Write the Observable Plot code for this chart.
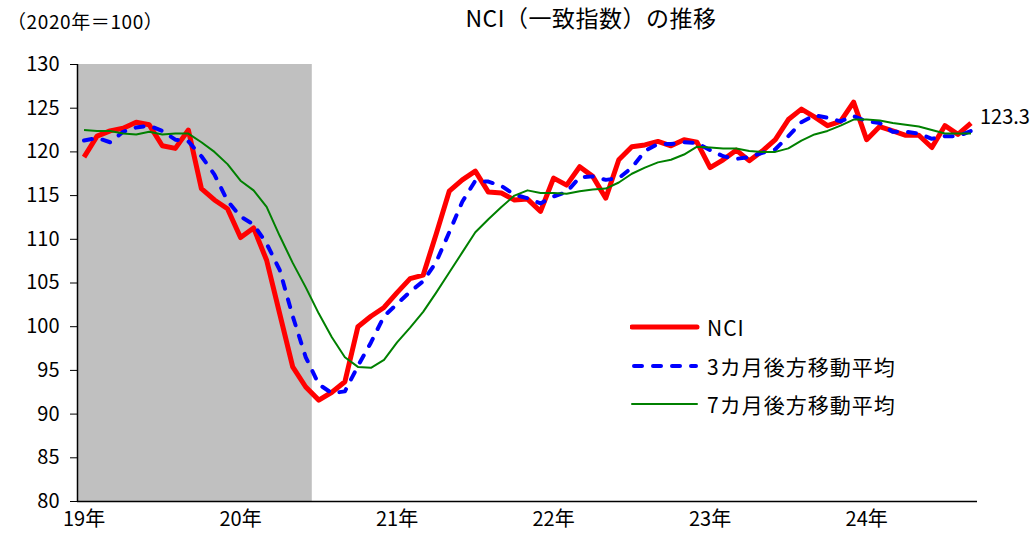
<!DOCTYPE html>
<html>
<head>
<meta charset="utf-8">
<script src="https://cdn.jsdelivr.net/npm/d3@7"></script>
<script src="https://cdn.jsdelivr.net/npm/@observablehq/plot@0.6"></script>
<style>
  body { margin: 0; background: #fff; }
  #wrap { position: relative; width: 1033px; height: 535px; overflow: hidden; font-family: "Noto Sans CJK JP", "Noto Sans", sans-serif; color: #000; }
  #title { position: absolute; left: 0; width: 1182px; top: 2px; text-align: center; font-size: 23px; line-height: 30px; letter-spacing: 0.5px; }
  #unit { position: absolute; left: 7px; top: 8px; font-size: 19px; line-height: 26px; letter-spacing: 0.6px; }
  #legend { position: absolute; left: 630px; top: 308px; font-size: 21px; letter-spacing: 1px; }
  .li { display: flex; align-items: center; height: 38.5px; }
  .li svg { margin-right: 7px; }
  #chart { position: absolute; left: 0; top: 0; }
</style>
</head>
<body>
<div id="wrap">
  <div id="chart"></div>
  <div id="title">NCI（一致指数）の推移</div>
  <div id="unit">（2020年＝100）</div>
  <div id="legend"></div>
</div>
<script>
// Monthly, Jan 2019 .. Sep 2024 (69 months)
const startMonth = "2019-01";
const yearLabels = ["19年", "20年", "21年", "22年", "23年", "24年"];
const yTicks = [80, 85, 90, 95, 100, 105, 110, 115, 120, 125, 130];
const recession = { from: "2019-01", to: "2020-06" };

const nci = [
  119.4, 121.8, 122.4, 122.7, 123.4, 123.1, 120.7, 120.4, 122.5, 115.8, 114.5, 113.5,
  110.2, 111.3, 107.6, 101.5, 95.4, 93.1, 91.6, 92.5, 93.7, 100.0, 101.2, 102.2,
  103.9, 105.5, 105.9, 110.6, 115.5, 116.8, 117.8, 115.4, 115.3, 114.5, 114.6, 113.2,
  117.0, 116.2, 118.3, 117.2, 114.7, 119.1, 120.6, 120.8, 121.2, 120.7, 121.4, 121.1,
  118.2, 119.1, 120.2, 119.0, 120.1, 121.4, 123.7, 124.9, 124.0, 123.0, 123.5, 125.7,
  121.4, 122.9, 122.4, 121.9, 121.9, 120.5, 123.0, 122.0, 123.3
];
const ma3 = [
  121.3, 121.6, 121.1, 122.3, 122.8, 123.0, 122.4, 121.4, 121.2, 119.5, 117.4, 114.4,
  112.6, 111.7, 109.5, 106.5, 101.2, 96.5, 93.4, 92.4, 92.6, 95.5, 98.2, 101.2,
  102.6, 104.0, 105.2, 107.4, 110.8, 114.3, 116.7, 116.6, 116.1, 115.1, 114.7, 114.1,
  114.9, 115.4, 117.1, 117.2, 116.8, 117.0, 118.2, 120.1, 120.9, 120.9, 121.1, 121.0,
  120.2, 119.5, 119.2, 119.4, 119.9, 120.3, 121.8, 123.4, 124.2, 123.9, 123.5, 124.1,
  123.5, 123.3, 122.3, 122.3, 122.1, 121.5, 121.8, 121.8, 122.4
];
const ma7 = [
  122.5, 122.4, 122.4, 122.1, 122.0, 122.3, 122.0, 122.1, 122.1, 121.1, 120.0, 118.6,
  116.7, 115.6, 113.7, 110.4, 107.3, 104.5, 101.5, 98.8, 96.5, 95.4, 95.3, 96.2,
  98.2, 99.9, 101.7, 103.9, 106.2, 108.5, 110.8, 112.3, 113.7, 115.0, 115.6, 115.3,
  115.3, 115.2, 115.5, 115.7, 115.8, 116.5, 117.5, 118.2, 118.8, 119.1, 119.7, 120.6,
  120.5, 120.4, 120.4, 120.1, 120.0, 120.0, 120.4, 121.3, 122.0, 122.4, 123.0, 123.7,
  123.7, 123.6, 123.3, 123.1, 122.9, 122.5, 122.1, 122.1, 122.1
];

const series = [
  { key: "nci", name: "NCI", color: "#ff0000", width: 5, dash: null, values: nci },
  { key: "ma3", name: "3カ月後方移動平均", color: "#0000ff", width: 4, dash: "8,11", values: ma3 },
  { key: "ma7", name: "7カ月後方移動平均", color: "#008000", width: 2, dash: null, values: ma7 }
];

const monthIndex = s => {
  const [y, m] = s.split("-").map(Number);
  const [y0, m0] = startMonth.split("-").map(Number);
  return (y - y0) * 12 + (m - m0);
};

const rows = [];
series.forEach(s => s.values.forEach((v, i) => rows.push({ i, v, key: s.key })));
const lastRow = { i: nci.length - 1, v: nci[nci.length - 1] };
const recRows = [{ x1: monthIndex(recession.from) - 0.5, x2: monthIndex(recession.to) + 0.5 }];
const yearTicks = yearLabels.map((_, k) => k * 12);

const plot = Plot.plot({
  width: 1033,
  height: 535,
  marginTop: 64,
  marginBottom: 34,
  marginLeft: 77,
  marginRight: 56,
  style: { fontFamily: "'Noto Sans CJK JP', 'Noto Sans', sans-serif", fontSize: "20px", color: "#000", background: "transparent" },
  x: { domain: [-0.5, nci.length - 0.5] },
  y: { domain: [80, 130] },
  marks: [
    Plot.rect(recRows, { x1: "x1", x2: "x2", y1: 80, y2: 130, fill: "#c0c0c0" }),
    ...series.map(s => Plot.line(rows.filter(r => r.key === s.key), {
      x: "i", y: "v", stroke: s.color, strokeWidth: s.width,
      strokeDasharray: s.dash || undefined,
      strokeLinecap: s.dash ? "round" : "butt",
      strokeLinejoin: "round"
    })),
    Plot.ruleX([-0.5], { stroke: "#000", strokeWidth: 1.5 }),
    Plot.ruleY([80], { stroke: "#000", strokeWidth: 1.5 }),
    Plot.axisY({ ticks: yTicks, tickSize: 7, tickPadding: 11, label: null, stroke: "#000", fontSize: 20 }),
    Plot.axisX({ ticks: yearTicks, tickFormat: (d) => yearLabels[d / 12], tickSize: 0, tickPadding: 10, label: null, fontSize: 20 }),
    Plot.text([lastRow], { x: "i", y: "v", text: d => d.v.toFixed(1), dx: 9, dy: -5, textAnchor: "start", fontSize: 20 })
  ]
});
document.getElementById("chart").appendChild(plot);

const legend = d3.select("#legend");
series.forEach(s => {
  const item = legend.append("div").attr("class", "li");
  const sv = item.append("svg").attr("width", 70).attr("height", 12);
  sv.append("line").attr("x1", s.dash ? 4 : 2).attr("x2", s.dash ? 66 : 67).attr("y1", 6).attr("y2", 6)
    .attr("stroke", s.color).attr("stroke-width", s.width)
    .attr("stroke-dasharray", s.dash)
    .attr("stroke-linecap", "round");
  item.append("span").text(s.name);
});
</script>
</body>
</html>
